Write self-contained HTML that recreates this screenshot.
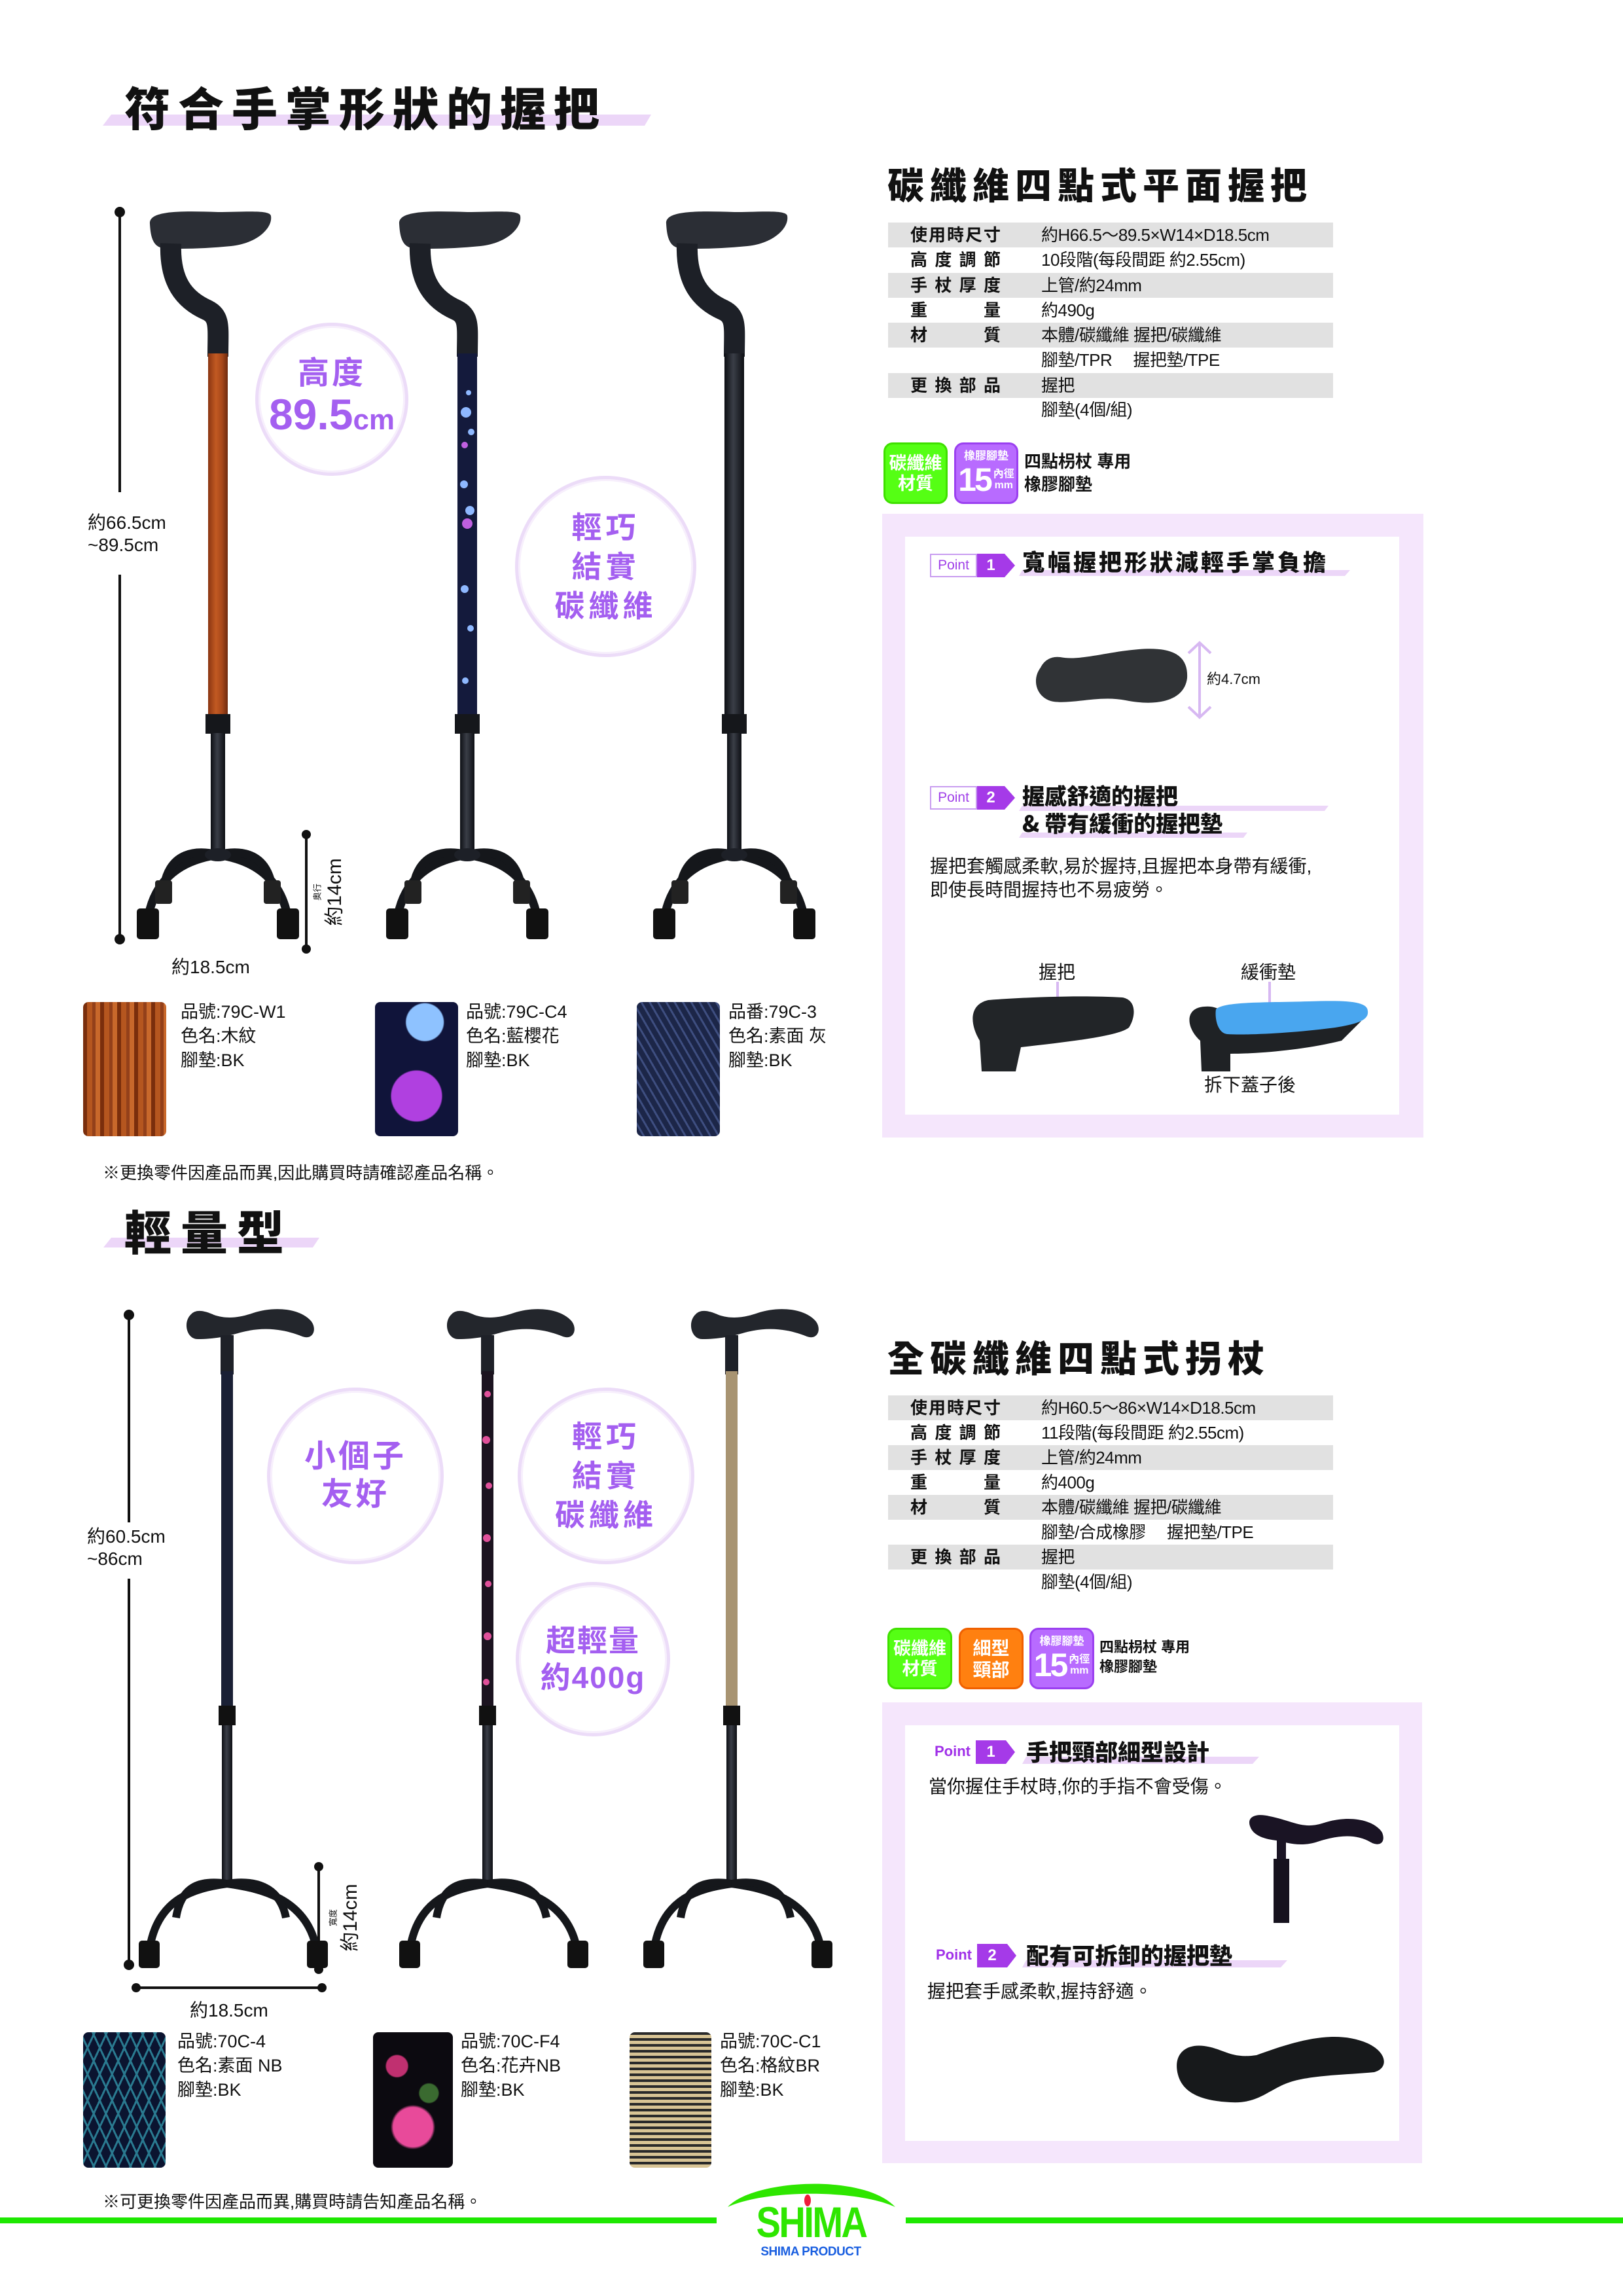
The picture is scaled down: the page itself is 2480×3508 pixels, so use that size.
<!DOCTYPE html>
<html><head><meta charset="utf-8">
<style>
*{margin:0;padding:0;box-sizing:border-box}
body{width:2480px;height:3508px;background:#fff;position:relative;overflow:hidden;font-family:"Liberation Sans","Noto Sans CJK TC",sans-serif;color:#111}
.a{position:absolute;white-space:nowrap}
.t{font-family:"Noto Sans CJK TC",sans-serif}
.title{font-weight:900;letter-spacing:8px}
.row{position:absolute;left:1357px;width:680px;height:38px}
.g{background:#e1e1e1}
.lab{position:absolute;left:34px;width:138px;top:2px;font-weight:700;font-size:26px;text-align:justify;text-align-last:justify;line-height:34px}
.val{position:absolute;left:234px;top:2px;font-size:26px;line-height:34px;letter-spacing:-0.5px}
.badge{position:absolute;border-radius:14px;color:#fff;text-align:center;font-weight:700;white-space:nowrap;overflow:hidden}
.n15{display:flex;align-items:center;justify-content:center;font-size:50px;line-height:52px;letter-spacing:-3px}
.n15 span{font-size:16px;line-height:17px;letter-spacing:0;margin-left:4px;text-align:center}
.sw{position:absolute;border-radius:8px}
.info{position:absolute;font-size:27px;line-height:37px}
.circ{position:absolute;border-radius:50%;border:5px solid #ecdcf8;box-shadow:0 0 0 3px #f7effc inset;color:#a45ff0;text-align:center;font-weight:700;display:flex;flex-direction:column;justify-content:center;align-items:center;background:#fff}
</style></head><body>

<svg class="a" style="left:0;top:0" width="2480" height="3508" viewBox="0 0 2480 3508">
<defs>
<linearGradient id="wood" x1="0" x2="1"><stop offset="0" stop-color="#8a3512"/><stop offset=".4" stop-color="#c25a22"/><stop offset=".7" stop-color="#a8481a"/><stop offset="1" stop-color="#6e2a0e"/></linearGradient>
<linearGradient id="bar" x1="0" x2="1"><stop offset="0" stop-color="#0d0f14"/><stop offset=".45" stop-color="#3a3e47"/><stop offset="1" stop-color="#0d0f14"/></linearGradient>
</defs>
<polygon points="170,175 995,175 985,192 157,192" fill="#ecd6f8"/>
<polygon points="170,1891 488,1891 478,1906 158,1906" fill="#ecd6f8"/>

<g stroke="#111" stroke-width="4"><line x1="183" y1="324" x2="183" y2="752"/><line x1="183" y1="878" x2="183" y2="1435"/></g>
<circle cx="183" cy="324" r="8" fill="#111"/><circle cx="183" cy="1435" r="8" fill="#111"/>
<line x1="468" y1="1275" x2="468" y2="1450" stroke="#111" stroke-width="4"/>
<circle cx="468" cy="1275" r="7" fill="#111"/><circle cx="468" cy="1450" r="7" fill="#111"/>

<g transform="translate(333,0)">
<path d="M-104 342 C-106 322 -60 322 0 324 C40 324 80 320 81 330 C84 348 60 372 20 376 C-20 380 -60 381 -85 379 C-100 376 -103 360 -104 342Z" fill="#2b2e35"/>
<path d="M-72 372 C-74 430 -52 458 -16 474 C4 484 0 500 0 545" stroke="#1d2027" stroke-width="32" fill="none"/>
<rect x="-15" y="540" width="30" height="551" fill="url(#wood)"/>
<rect x="-19" y="1091" width="38" height="30" fill="#15171b"/>
<rect x="-11" y="1120" width="22" height="190" fill="url(#bar)"/>
<g stroke="#15171b" stroke-width="13" fill="none"><path d="M0 1306 C-40 1312 -92 1330 -106 1398"/><path d="M0 1306 C40 1312 92 1330 106 1398"/><path d="M0 1306 C-34 1298 -72 1302 -82 1352"/><path d="M0 1306 C34 1298 72 1302 82 1352"/></g>
<ellipse cx="0" cy="1306" rx="20" ry="10" fill="#1d2027"/>
<rect x="-124" y="1388" width="34" height="47" rx="5" fill="#111"/><rect x="90" y="1388" width="34" height="47" rx="5" fill="#111"/>
<rect x="-96" y="1345" width="26" height="36" rx="4" fill="#222"/><rect x="70" y="1345" width="26" height="36" rx="4" fill="#222"/>
</g>
<g transform="translate(714,0)">
<path d="M-104 342 C-106 322 -60 322 0 324 C40 324 80 320 81 330 C84 348 60 372 20 376 C-20 380 -60 381 -85 379 C-100 376 -103 360 -104 342Z" fill="#2b2e35"/>
<path d="M-72 372 C-74 430 -52 458 -16 474 C4 484 0 500 0 545" stroke="#1d2027" stroke-width="32" fill="none"/>
<rect x="-15" y="540" width="30" height="551" fill="#141a3c"/>
<g fill="#8fb8ff"><circle cx="-2" cy="630" r="8"/><circle cx="6" cy="660" r="5"/><circle cx="-5" cy="740" r="6"/><circle cx="4" cy="780" r="7"/><circle cx="-4" cy="900" r="6"/><circle cx="5" cy="960" r="5"/><circle cx="-3" cy="1040" r="5"/><circle cx="2" cy="600" r="4"/></g>
<g fill="#c060e0"><circle cx="0" cy="800" r="8"/><circle cx="-4" cy="680" r="5"/></g>
<rect x="-19" y="1091" width="38" height="30" fill="#15171b"/>
<rect x="-11" y="1120" width="22" height="190" fill="url(#bar)"/>
<g stroke="#15171b" stroke-width="13" fill="none"><path d="M0 1306 C-40 1312 -92 1330 -106 1398"/><path d="M0 1306 C40 1312 92 1330 106 1398"/><path d="M0 1306 C-34 1298 -72 1302 -82 1352"/><path d="M0 1306 C34 1298 72 1302 82 1352"/></g>
<ellipse cx="0" cy="1306" rx="20" ry="10" fill="#1d2027"/>
<rect x="-124" y="1388" width="34" height="47" rx="5" fill="#111"/><rect x="90" y="1388" width="34" height="47" rx="5" fill="#111"/>
<rect x="-96" y="1345" width="26" height="36" rx="4" fill="#222"/><rect x="70" y="1345" width="26" height="36" rx="4" fill="#222"/>
</g>
<g transform="translate(1122,0)">
<path d="M-104 342 C-106 322 -60 322 0 324 C40 324 80 320 81 330 C84 348 60 372 20 376 C-20 380 -60 381 -85 379 C-100 376 -103 360 -104 342Z" fill="#2b2e35"/>
<path d="M-72 372 C-74 430 -52 458 -16 474 C4 484 0 500 0 545" stroke="#1d2027" stroke-width="32" fill="none"/>
<rect x="-15" y="540" width="30" height="551" fill="url(#bar)"/>
<rect x="-19" y="1091" width="38" height="30" fill="#15171b"/>
<rect x="-11" y="1120" width="22" height="190" fill="url(#bar)"/>
<g stroke="#15171b" stroke-width="13" fill="none"><path d="M0 1306 C-40 1312 -92 1330 -106 1398"/><path d="M0 1306 C40 1312 92 1330 106 1398"/><path d="M0 1306 C-34 1298 -72 1302 -82 1352"/><path d="M0 1306 C34 1298 72 1302 82 1352"/></g>
<ellipse cx="0" cy="1306" rx="20" ry="10" fill="#1d2027"/>
<rect x="-124" y="1388" width="34" height="47" rx="5" fill="#111"/><rect x="90" y="1388" width="34" height="47" rx="5" fill="#111"/>
<rect x="-96" y="1345" width="26" height="36" rx="4" fill="#222"/><rect x="70" y="1345" width="26" height="36" rx="4" fill="#222"/>
</g>

<rect x="1348" y="785" width="827" height="953" fill="#f5e6fc"/>
<rect x="1383" y="820" width="755" height="883" fill="#fff"/>
<polygon points="1562,871 2063,871 2055,880 1557,880" fill="#ecd6f8"/>
<polygon points="1562,1231 2030,1231 2024,1239 1557,1239" fill="#ecd6f8"/>
<polygon points="1562,1272 1906,1272 1900,1280 1557,1280" fill="#ecd6f8"/>
<path d="M1590 1020 C1575 1040 1585 1068 1610 1072 C1640 1076 1680 1062 1720 1070 C1770 1080 1810 1070 1814 1036 C1816 1000 1790 988 1740 992 C1690 996 1650 1010 1620 1004 C1605 1002 1595 1010 1590 1020Z" fill="#303336"/>
<g stroke="#d7b8f2" stroke-width="4" fill="none"><line x1="1833" y1="982" x2="1833" y2="1096"/><polyline points="1816,998 1833,982 1850,998"/><polyline points="1816,1080 1833,1096 1850,1080"/></g>
<line x1="1616" y1="1500" x2="1616" y2="1530" stroke="#d7b8f2" stroke-width="4"/>
<line x1="1940" y1="1500" x2="1940" y2="1536" stroke="#d7b8f2" stroke-width="4"/>
<path d="M1500 1637 L1497 1590 C1482 1565 1480 1535 1510 1528 C1560 1524 1650 1520 1715 1524 C1738 1528 1735 1555 1725 1570 C1710 1582 1650 1590 1560 1600 L1552 1637Z" fill="#222528"/>
<path d="M1836 1637 L1834 1590 C1812 1570 1810 1540 1840 1538 C1860 1536 1870 1546 1880 1556 L1888 1580 C1960 1578 2040 1570 2080 1560 L2050 1590 C1990 1605 1920 1610 1880 1610 L1880 1637Z" fill="#1f2225"/>
<path d="M1858 1542 C1870 1530 1930 1532 2000 1530 C2060 1528 2090 1530 2090 1545 C2092 1560 2070 1565 2040 1570 C1980 1578 1910 1582 1875 1580 C1860 1578 1856 1555 1858 1542Z" fill="#49a6ef"/>

<g stroke="#111" stroke-width="4"><line x1="197" y1="2009" x2="197" y2="2326"/><line x1="197" y1="2412" x2="197" y2="3002"/><line x1="487" y1="2852" x2="487" y2="3009"/><line x1="208" y1="3037" x2="492" y2="3037"/></g>
<g fill="#111"><circle cx="197" cy="2009" r="8"/><circle cx="197" cy="3002" r="8"/><circle cx="487" cy="2852" r="7"/><circle cx="487" cy="3009" r="7"/><circle cx="208" cy="3037" r="7"/><circle cx="492" cy="3037" r="7"/></g>

<g transform="translate(347,0)">
<path d="M-55 2008 C-68 2020 -62 2046 -45 2046 C-20 2046 0 2042 20 2036 C50 2028 80 2028 115 2042 C132 2048 138 2030 128 2018 C110 1998 70 1996 40 2006 C20 2013 0 2016 -20 2009 C-35 2002 -48 2000 -55 2008Z" fill="#23262c"/>
<rect x="-10" y="2040" width="20" height="60" fill="#1e2128"/>
<rect x="-9" y="2095" width="18" height="511" fill="#1a2035"/>
<rect x="-13" y="2606" width="26" height="30" fill="#111"/>
<rect x="-8" y="2636" width="16" height="244" fill="url(#bar)"/>
<g stroke="#15171b" stroke-width="12" fill="none"><path d="M0 2878 C-50 2885 -105 2900 -118 2975"/><path d="M0 2878 C50 2885 120 2900 136 2975"/><path d="M0 2878 C-40 2872 -70 2880 -78 2930"/><path d="M0 2878 C40 2872 80 2880 90 2930"/></g>
<rect x="-135" y="2965" width="32" height="42" rx="5" fill="#111"/><rect x="122" y="2965" width="32" height="42" rx="5" fill="#111"/>
</g>
<g transform="translate(745,0)">
<path d="M-55 2008 C-68 2020 -62 2046 -45 2046 C-20 2046 0 2042 20 2036 C50 2028 80 2028 115 2042 C132 2048 138 2030 128 2018 C110 1998 70 1996 40 2006 C20 2013 0 2016 -20 2009 C-35 2002 -48 2000 -55 2008Z" fill="#23262c"/>
<rect x="-10" y="2040" width="20" height="60" fill="#1e2128"/>
<rect x="-9" y="2095" width="18" height="511" fill="#1c1420"/>
<g fill="#e0509a"><circle cx="0" cy="2130" r="5"/><circle cx="-2" cy="2200" r="6"/><circle cx="2" cy="2270" r="5"/><circle cx="-1" cy="2350" r="6"/><circle cx="1" cy="2420" r="5"/><circle cx="0" cy="2500" r="6"/><circle cx="-2" cy="2570" r="5"/></g>
<rect x="-13" y="2606" width="26" height="30" fill="#111"/>
<rect x="-8" y="2636" width="16" height="244" fill="url(#bar)"/>
<g stroke="#15171b" stroke-width="12" fill="none"><path d="M0 2878 C-50 2885 -105 2900 -118 2975"/><path d="M0 2878 C50 2885 120 2900 136 2975"/><path d="M0 2878 C-40 2872 -70 2880 -78 2930"/><path d="M0 2878 C40 2872 80 2880 90 2930"/></g>
<rect x="-135" y="2965" width="32" height="42" rx="5" fill="#111"/><rect x="122" y="2965" width="32" height="42" rx="5" fill="#111"/>
</g>
<g transform="translate(1118,0)">
<path d="M-55 2008 C-68 2020 -62 2046 -45 2046 C-20 2046 0 2042 20 2036 C50 2028 80 2028 115 2042 C132 2048 138 2030 128 2018 C110 1998 70 1996 40 2006 C20 2013 0 2016 -20 2009 C-35 2002 -48 2000 -55 2008Z" fill="#23262c"/>
<rect x="-10" y="2040" width="20" height="60" fill="#1e2128"/>
<rect x="-9" y="2095" width="18" height="511" fill="#a89472"/>
<rect x="-13" y="2606" width="26" height="30" fill="#111"/>
<rect x="-8" y="2636" width="16" height="244" fill="url(#bar)"/>
<g stroke="#15171b" stroke-width="12" fill="none"><path d="M0 2878 C-50 2885 -105 2900 -118 2975"/><path d="M0 2878 C50 2885 120 2900 136 2975"/><path d="M0 2878 C-40 2872 -70 2880 -78 2930"/><path d="M0 2878 C40 2872 80 2880 90 2930"/></g>
<rect x="-135" y="2965" width="32" height="42" rx="5" fill="#111"/><rect x="122" y="2965" width="32" height="42" rx="5" fill="#111"/>
</g>

<rect x="1348" y="2601" width="825" height="704" fill="#f5e6fc"/>
<rect x="1383" y="2636" width="755" height="635" fill="#fff"/>
<polygon points="1568,2684 1924,2684 1914,2695 1562,2695" fill="#ecd6f8"/>
<polygon points="1568,2995 1967,2995 1957,3006 1562,3006" fill="#ecd6f8"/>
<path d="M1910 2790 C1905 2775 1920 2770 1940 2775 C1975 2782 1990 2795 2020 2786 C2060 2772 2100 2780 2112 2800 C2118 2815 2108 2822 2095 2815 C2070 2800 2040 2805 2010 2815 C1985 2822 1965 2815 1950 2812 C1935 2810 1915 2806 1910 2790Z" fill="#1a1424"/>
<rect x="1951" y="2805" width="14" height="45" fill="#1a1424"/>
<rect x="1946" y="2840" width="24" height="98" fill="#16121e"/>
<path d="M1800 3170 C1792 3140 1810 3122 1840 3126 C1870 3130 1880 3146 1920 3140 C1980 3118 2040 3100 2090 3122 C2120 3136 2122 3160 2100 3166 C2060 3170 2010 3170 1975 3180 C1940 3190 1925 3215 1880 3212 C1840 3210 1808 3200 1800 3170Z" fill="#17191b"/>

<rect x="0" y="3388" width="1095" height="9" fill="#1de800"/>
<rect x="1384" y="3388" width="1096" height="9" fill="#1de800"/>
<path d="M1112 3372 C1150 3330 1320 3320 1368 3372 C1310 3345 1170 3345 1112 3372Z" fill="#2ee600"/>
<ellipse cx="1234" cy="3362" rx="5" ry="9" fill="#ee1c3c"/>
</svg>

<div class="a t title" style="left:190px;top:112px;font-size:70px;letter-spacing:12px">符合手掌形狀的握把</div>
<div class="a t title" style="left:1356px;top:240px;font-size:56px;letter-spacing:9px">碳纖維四點式平面握把</div>
<div class="a t title" style="left:190px;top:1826px;font-size:72px;letter-spacing:14px">輕量型</div>
<div class="a t title" style="left:1356px;top:2032px;font-size:56px;letter-spacing:9px">全碳纖維四點式拐杖</div>

<div class="row g" style="top:340px"><div class="lab">使用時尺寸</div><div class="val">約H66.5〜89.5×W14×D18.5cm</div></div>
<div class="row" style="top:378px"><div class="lab">高度調節</div><div class="val">10段階(每段間距 約2.55cm)</div></div>
<div class="row g" style="top:417px"><div class="lab">手杖厚度</div><div class="val">上管/約24mm</div></div>
<div class="row" style="top:455px"><div class="lab">重量</div><div class="val">約490g</div></div>
<div class="row g" style="top:493px"><div class="lab">材質</div><div class="val">本體/碳纖維 握把/碳纖維</div></div>
<div class="row" style="top:531px"><div class="val">腳墊/TPR　 握把墊/TPE</div></div>
<div class="row g" style="top:570px"><div class="lab">更換部品</div><div class="val">握把</div></div>
<div class="row" style="top:607px"><div class="val">腳墊(4個/組)</div></div>

<div class="badge" style="left:1350px;top:676px;width:98px;height:94px;background:#55ff14;border:3px solid #3fe000;font-size:27px;line-height:31px;padding-top:14px">碳纖維<br>材質</div>
<div class="badge" style="left:1458px;top:676px;width:98px;height:94px;background:#b86bff;border:3px solid #9b40f0;font-size:17px;line-height:20px;padding-top:8px">橡膠腳墊<div class="n15">15<span>內徑<br>mm</span></div></div>
<div class="a" style="left:1565px;top:688px;font-size:26px;line-height:35px;font-weight:700">四點枴杖 專用<br>橡膠腳墊</div>

<div class="a" style="left:1421px;top:846px;width:72px;height:36px;border:2px solid #c89cf0;background:#fff;color:#a040e8;font-size:21px;line-height:32px;text-align:center">Point</div>
<div class="a" style="left:1493px;top:846px;width:42px;height:36px;background:#a53ae8;color:#fff;font-weight:700;font-size:24px;line-height:36px;text-align:center">1</div>
<div class="a" style="left:1535px;top:846px;width:0;height:0;border-top:18px solid transparent;border-bottom:18px solid transparent;border-left:16px solid #a53ae8"></div>
<div class="a t" style="left:1562px;top:832px;font-size:35px;font-weight:900;letter-spacing:4px">寬幅握把形狀減輕手掌負擔</div>
<div class="a" style="left:1844px;top:1020px;font-size:22px">約4.7cm</div>
<div class="a" style="left:1421px;top:1201px;width:72px;height:36px;border:2px solid #c89cf0;background:#fff;color:#a040e8;font-size:21px;line-height:32px;text-align:center">Point</div>
<div class="a" style="left:1493px;top:1201px;width:42px;height:36px;background:#a53ae8;color:#fff;font-weight:700;font-size:24px;line-height:36px;text-align:center">2</div>
<div class="a" style="left:1535px;top:1201px;width:0;height:0;border-top:18px solid transparent;border-bottom:18px solid transparent;border-left:16px solid #a53ae8"></div>
<div class="a t" style="left:1562px;top:1194px;font-size:34px;font-weight:900;line-height:42px">握感舒適的握把<br>&amp; 帶有緩衝的握把墊</div>
<div class="a" style="left:1421px;top:1306px;font-size:28px;line-height:36px">握把套觸感柔軟,易於握持,且握把本身帶有緩衝,<br>即使長時間握持也不易疲勞。</div>
<div class="a" style="left:1587px;top:1464px;font-size:28px">握把</div>
<div class="a" style="left:1896px;top:1464px;font-size:28px">緩衝墊</div>
<div class="a" style="left:1840px;top:1636px;font-size:28px">拆下蓋子後</div>

<div class="a" style="left:134px;top:782px;font-size:28px;line-height:34px">約66.5cm<br>~89.5cm</div>
<div class="a" style="left:508px;top:1363px;transform:translate(-50%,-50%) rotate(-90deg);font-size:30px">約14cm</div>
<div class="a" style="left:484px;top:1363px;transform:translate(-50%,-50%) rotate(-90deg);font-size:13px">奥行</div>
<div class="a" style="left:262px;top:1456px;font-size:28px">約18.5cm</div>
<div class="circ" style="left:390px;top:493px;width:234px;height:234px"><div style="font-size:48px;line-height:54px;letter-spacing:4px">高度</div><div style="font-size:66px;line-height:70px;font-weight:900">89.5<span style="font-size:44px">cm</span></div></div>
<div class="circ" style="left:787px;top:727px;width:277px;height:277px;font-size:46px;line-height:60px;letter-spacing:6px">輕巧<br>結實<br>碳纖維</div>

<div class="sw" style="left:127px;top:1531px;width:127px;height:205px;background:repeating-linear-gradient(90deg,#7a2e0c 0 6px,#b5561f 6px 14px,#93401a 14px 19px,#c8682b 19px 26px)"></div>
<div class="info" style="left:276px;top:1528px">品號:79C-W1<br>色名:木紋<br>腳墊:BK</div>
<div class="sw" style="left:573px;top:1531px;width:127px;height:205px;background:radial-gradient(circle at 50% 70%,#b040e0 0 38px,transparent 40px),radial-gradient(circle at 60% 15%,#8ec2ff 0 28px,transparent 30px),#10143a"></div>
<div class="info" style="left:712px;top:1528px">品號:79C-C4<br>色名:藍櫻花<br>腳墊:BK</div>
<div class="sw" style="left:973px;top:1531px;width:127px;height:205px;background:repeating-linear-gradient(60deg,#1c2648 0 8px,#3e4e80 8px 11px),#1c2648"></div>
<div class="info" style="left:1113px;top:1528px">品番:79C-3<br>色名:素面 灰<br>腳墊:BK</div>
<div class="a" style="left:157px;top:1772px;font-size:26px">※更換零件因產品而異,因此購買時請確認產品名稱。</div>

<div class="row g" style="top:2132px"><div class="lab">使用時尺寸</div><div class="val">約H60.5〜86×W14×D18.5cm</div></div>
<div class="row" style="top:2170px"><div class="lab">高度調節</div><div class="val">11段階(每段間距 約2.55cm)</div></div>
<div class="row g" style="top:2208px"><div class="lab">手杖厚度</div><div class="val">上管/約24mm</div></div>
<div class="row" style="top:2246px"><div class="lab">重量</div><div class="val">約400g</div></div>
<div class="row g" style="top:2284px"><div class="lab">材質</div><div class="val">本體/碳纖維 握把/碳纖維</div></div>
<div class="row" style="top:2322px"><div class="val">腳墊/合成橡膠　 握把墊/TPE</div></div>
<div class="row g" style="top:2360px"><div class="lab">更換部品</div><div class="val">握把</div></div>
<div class="row" style="top:2398px"><div class="val">腳墊(4個/組)</div></div>

<div class="badge" style="left:1356px;top:2487px;width:99px;height:94px;background:#55ff14;border:3px solid #3fe000;font-size:27px;line-height:31px;padding-top:14px">碳纖維<br>材質</div>
<div class="badge" style="left:1465px;top:2487px;width:99px;height:94px;background:#ff8010;border:3px solid #f06000;font-size:28px;line-height:33px;padding-top:12px">細型<br>頸部</div>
<div class="badge" style="left:1573px;top:2487px;width:99px;height:94px;background:#b86bff;border:3px solid #9b40f0;font-size:17px;line-height:20px;padding-top:8px">橡膠腳墊<div class="n15">15<span>內徑<br>mm</span></div></div>
<div class="a" style="left:1680px;top:2502px;font-size:22px;line-height:30px;font-weight:700">四點枴杖 專用<br>橡膠腳墊</div>

<div class="a" style="left:1428px;top:2663px;color:#a030e8;font-weight:900;font-size:22px">Point</div>
<div class="a" style="left:1491px;top:2659px;width:46px;height:36px;background:#a53ae8;color:#fff;font-weight:700;font-size:24px;line-height:36px;text-align:center">1</div>
<div class="a" style="left:1537px;top:2659px;width:0;height:0;border-top:18px solid transparent;border-bottom:18px solid transparent;border-left:14px solid #a53ae8"></div>
<div class="a t" style="left:1568px;top:2650px;font-size:35px;font-weight:900">手把頸部細型設計</div>
<div class="a" style="left:1419px;top:2708px;font-size:28px">當你握住手杖時,你的手指不會受傷。</div>
<div class="a" style="left:1430px;top:2974px;color:#a030e8;font-weight:900;font-size:22px">Point</div>
<div class="a" style="left:1493px;top:2970px;width:46px;height:36px;background:#a53ae8;color:#fff;font-weight:700;font-size:24px;line-height:36px;text-align:center">2</div>
<div class="a" style="left:1539px;top:2970px;width:0;height:0;border-top:18px solid transparent;border-bottom:18px solid transparent;border-left:14px solid #a53ae8"></div>
<div class="a t" style="left:1568px;top:2961px;font-size:35px;font-weight:900">配有可拆卸的握把墊</div>
<div class="a" style="left:1417px;top:3021px;font-size:28px">握把套手感柔軟,握持舒適。</div>

<div class="a" style="left:133px;top:2331px;font-size:28px;line-height:34px">約60.5cm<br>~86cm</div>
<div class="a" style="left:532px;top:2930px;transform:translate(-50%,-50%) rotate(-90deg);font-size:30px">約14cm</div>
<div class="a" style="left:508px;top:2930px;transform:translate(-50%,-50%) rotate(-90deg);font-size:13px">寬度</div>
<div class="a" style="left:290px;top:3050px;font-size:28px">約18.5cm</div>
<div class="circ" style="left:408px;top:2120px;width:270px;height:270px;font-size:48px;line-height:58px;letter-spacing:4px">小個子<br>友好</div>
<div class="circ" style="left:791px;top:2120px;width:270px;height:270px;font-size:46px;line-height:60px;letter-spacing:6px">輕巧<br>結實<br>碳纖維</div>
<div class="circ" style="left:788px;top:2417px;width:236px;height:236px;font-size:46px;line-height:56px;letter-spacing:2px">超輕量<br>約400g</div>

<div class="sw" style="left:127px;top:3105px;width:126px;height:207px;background:repeating-linear-gradient(65deg,transparent 0 14px,#2a7a90 14px 17px),repeating-linear-gradient(-65deg,transparent 0 14px,#2a7a90 14px 17px),#0b1430"></div>
<div class="info" style="left:271px;top:3101px">品號:70C-4<br>色名:素面 NB<br>腳墊:BK</div>
<div class="sw" style="left:570px;top:3105px;width:122px;height:207px;background:radial-gradient(circle at 50% 70%,#e84a9a 0 30px,transparent 34px),radial-gradient(circle at 30% 25%,#c03070 0 16px,transparent 18px),radial-gradient(circle at 70% 45%,#3a6a30 0 14px,transparent 16px),#0c0a10"></div>
<div class="info" style="left:704px;top:3101px">品號:70C-F4<br>色名:花卉NB<br>腳墊:BK</div>
<div class="sw" style="left:962px;top:3105px;width:125px;height:207px;background:repeating-linear-gradient(0deg,#d8c495 0 5px,#2a2a2a 5px 9px),#c8b080"></div>
<div class="info" style="left:1100px;top:3101px">品號:70C-C1<br>色名:格紋BR<br>腳墊:BK</div>
<div class="a" style="left:157px;top:3344px;font-size:26px">※可更換零件因產品而異,購買時請告知產品名稱。</div>

<div class="a" style="left:1131px;top:3360px;width:217px;text-align:center;color:#2ee600;font-weight:900;font-size:66px;line-height:70px;letter-spacing:-3px;transform:scaleX(.85)">SHIMA</div>
<div class="a" style="left:1150px;top:3430px;width:178px;text-align:center;color:#1a5fe0;font-weight:700;font-size:19px;letter-spacing:-0.5px">SHIMA PRODUCT</div>
</body></html>
